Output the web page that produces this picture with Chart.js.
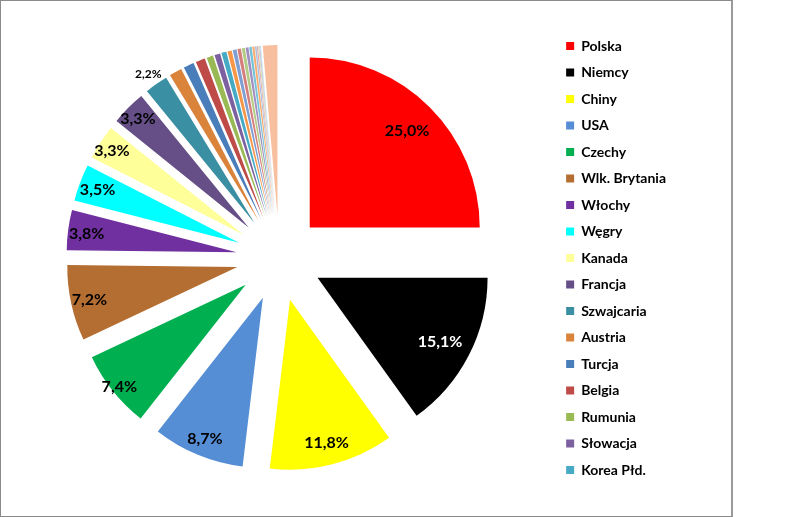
<!DOCTYPE html>
<html>
<head>
<meta charset="utf-8">
<script src="https://cdn.jsdelivr.net/npm/chart.js@4.4.1/dist/chart.umd.min.js"></script>
<style>
  html, body { margin: 0; padding: 0; background: #fff; }
  #frame { position: absolute; left: 0; top: 0; width: 730px; height: 515px; border: 1px solid #8a8a8a; border-right: 2px solid #9a9a9a; }
  #c { position: absolute; left: 0; top: 0; }
</style>
</head>
<body>
<div id="frame"></div>
<canvas id="c" width="786" height="517"></canvas>
<script>
const countries = ['Polska','Niemcy','Chiny','USA','Czechy','Wlk. Brytania','Włochy','Węgry','Kanada','Francja','Szwajcaria','Austria','Turcja','Belgia','Rumunia','Słowacja','Korea Płd.',
  'Kraj 18','Kraj 19','Kraj 20','Kraj 21','Kraj 22','Kraj 23','Kraj 24','Kraj 25','Kraj 26','Kraj 27','Kraj 28','Kraj 29','Pozostałe'];
const shares = [25.0, 15.1, 11.8, 8.7, 7.4, 7.2, 3.8, 3.5, 3.3, 3.3, 2.2, 1.2, 1.0, 0.9, 0.62, 0.55, 0.48,
  0.4, 0.36, 0.33, 0.3, 0.27, 0.24, 0.21, 0.14, 0.11, 0.09, 0.07, 0.05, 1.38];
const sliceColors = ['#FF0000','#000000','#FFFF00','#558ED5','#00B050','#B46E32','#7030A0','#00FFFF','#FFFF99','#664F86','#3A8FA3','#DA833A','#4A7EBB','#BE4B48','#98B954','#7D60A0','#46AAC5',
  '#F79646','#7F9FD3','#D57F7D','#B3CC85','#A28FC2','#78C2D8','#F9AD6F','#A9BFE2','#E3AAA9','#CDDDAE','#C0B4D6','#A8D8E6','#F8BF9E'];
const legendCount = 17;

const EXPLODE = 43;   // px each slice is pulled out along its bisector
const RADIUS = 170;
// label placement (fraction of radius) tuned to the reference's "best fit" positions
const labelFactorOverride = { 2: 0.865, 4: 0.95, 8: 0.92, 9: 0.92 };

// Explode slices: move each arc's own centre outward along its mid angle
const explode = {
  id: 'explode',
  afterDatasetsUpdate(chart) {
    const meta = chart.getDatasetMeta(0);
    meta.data.forEach(arc => {
      const mid = (arc.startAngle + arc.endAngle) / 2;
      arc.x += Math.cos(mid) * EXPLODE;
      arc.y += Math.sin(mid) * EXPLODE;
    });
  }
};

const pctLabels = {
  id: 'pctLabels',
  afterDatasetsDraw(chart) {
    const ctx = chart.ctx;
    const meta = chart.getDatasetMeta(0);
    const ds = chart.data.datasets[0].data;
    ctx.save();
    ctx.textAlign = 'center';
    ctx.textBaseline = 'middle';
    meta.data.forEach((arc, i) => {
      const v = ds[i];
      if (v < 2) return;
      const mid = (arc.startAngle + arc.endAngle) / 2;
      let dist;
      if (v < 3) dist = RADIUS + 14;
      else if (v > 14) dist = RADIUS * 0.81;
      else dist = RADIUS * (labelFactorOverride[i] || 0.89);
      const x = arc.x + Math.cos(mid) * dist;
      const y = arc.y + Math.sin(mid) * dist + 1;
      const txt = v.toFixed(1).replace('.', ',') + '%';
      ctx.font = (v < 3 ? 'bold 12px Lato' : 'bold 16px Lato');
      ctx.fillStyle = (sliceColors[i] === '#000000') ? '#FFFFFF' : '#000000';
      ctx.fillText(txt, x, y);
    });
    ctx.restore();
  }
};

new Chart(document.getElementById('c'), {
  type: 'pie',
  data: {
    labels: countries,
    datasets: [{
      data: shares,
      backgroundColor: sliceColors,
      borderWidth: 0,
      offset: 0,
      hoverOffset: 0
    }]
  },
  options: {
    responsive: false,
    animation: false,
    devicePixelRatio: 1,
    radius: RADIUS,
    events: [],
    layout: { padding: { left: 5, right: 110, top: 1, bottom: 2 } },
    plugins: {
      tooltip: { enabled: false },
      legend: {
        position: 'right',
        labels: {
          boxWidth: 8,
          boxHeight: 8,
          padding: 12.5,
          color: '#000',
          font: { family: 'Lato', size: 14, weight: 'bold' },
          filter: (item) => item.index < legendCount
        }
      }
    }
  },
  plugins: [explode, pctLabels]
});
</script>
</body>
</html>
